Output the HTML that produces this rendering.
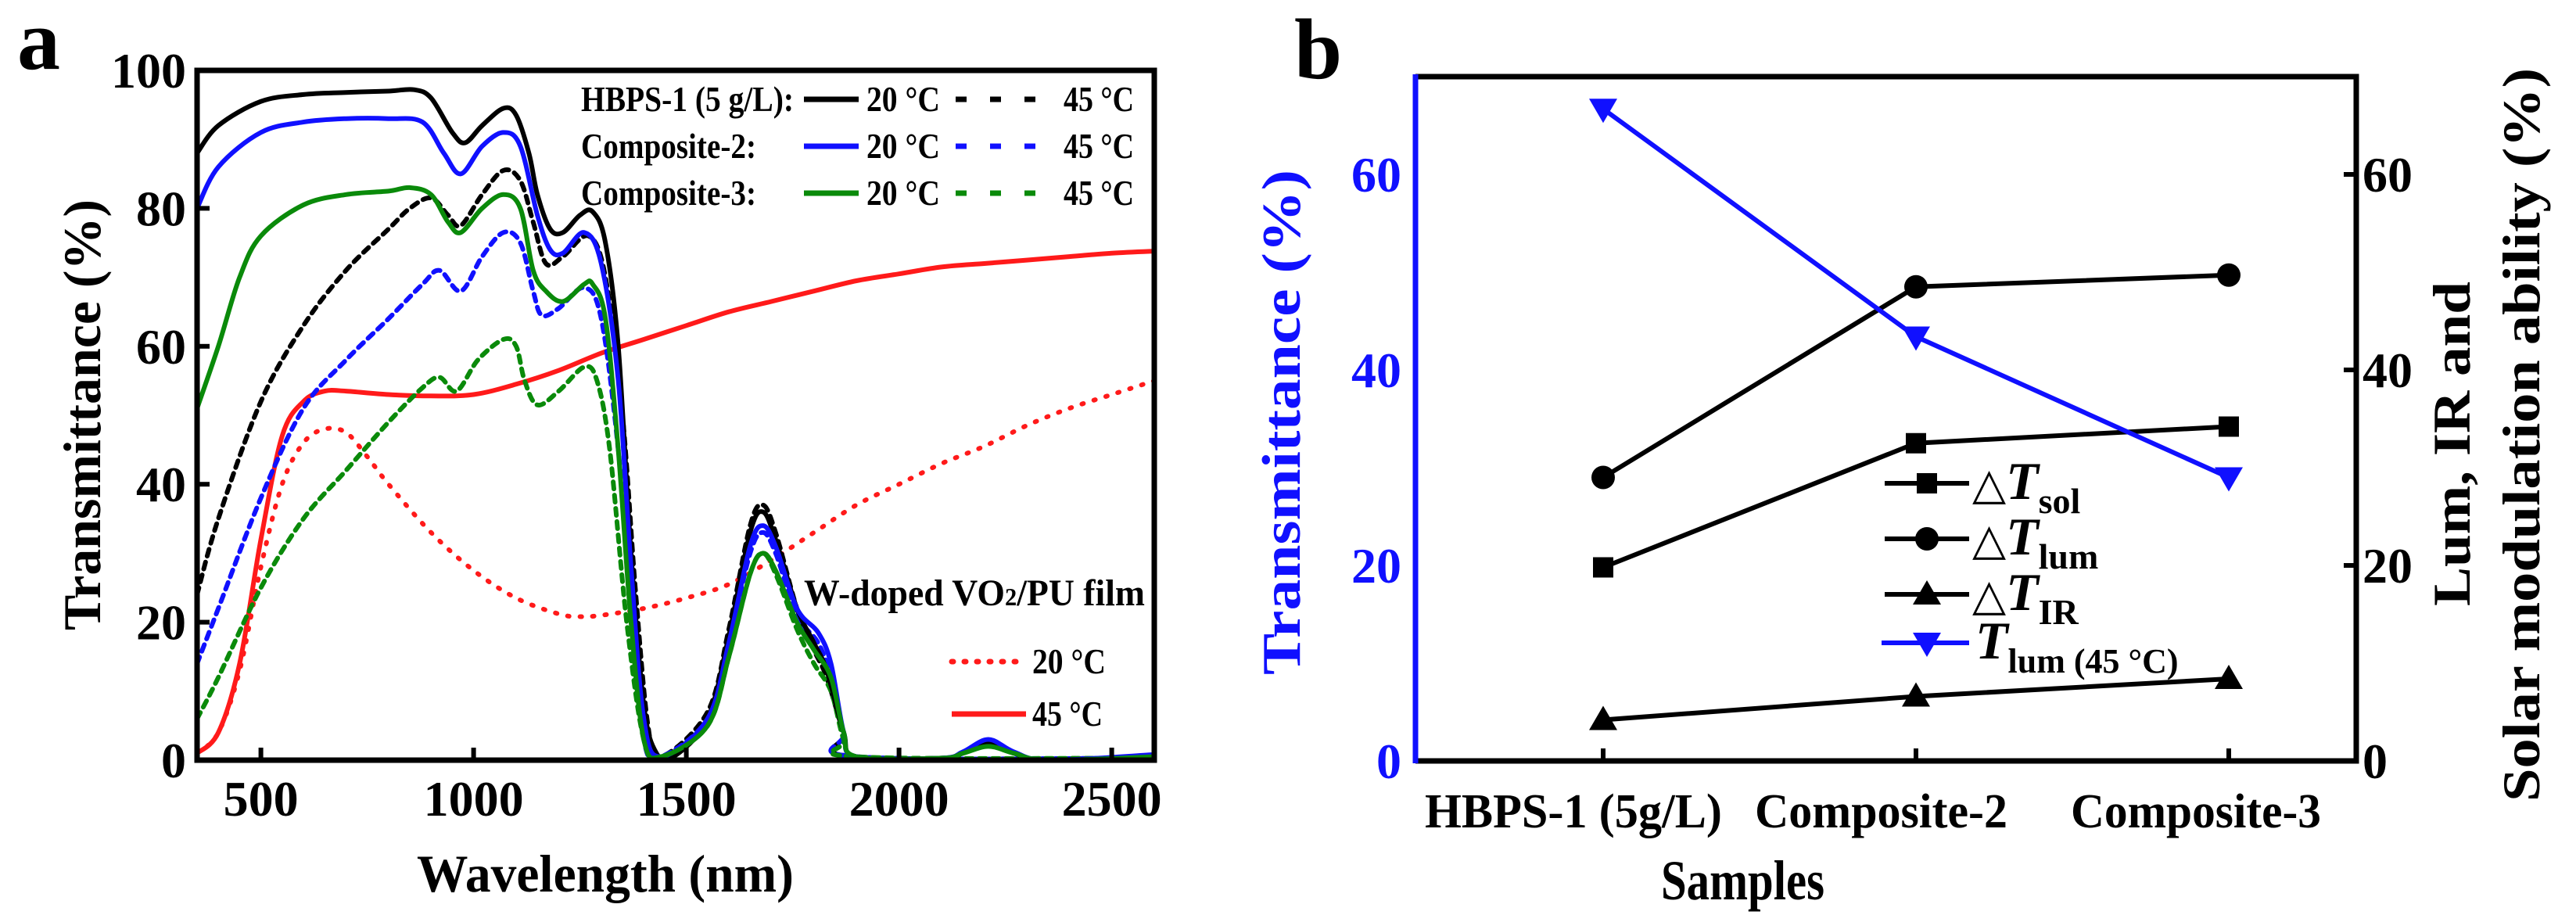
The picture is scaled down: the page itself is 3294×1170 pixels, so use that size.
<!DOCTYPE html>
<html><head><meta charset="utf-8"><style>
html,body{margin:0;padding:0;background:#fff;}
svg{display:block;font-family:"Liberation Serif",serif;font-weight:bold;}
</style></head><body>
<svg id="fig" width="3294" height="1170" viewBox="0 0 3294 1170" xmlns="http://www.w3.org/2000/svg">
<text x="22" y="88" font-size="110">a</text>
<text x="1655" y="100" font-size="110">b</text>
<g id="ga"></g>
<g id="gb"></g>
</svg>
<script>
// ---------- Panel a data ----------
const wlTicks = [500,1000,1500,2000,2500];
const tTicksA = [0,20,40,60,80,100];
const hbps20 = [[350,88],[400,92],[500,95.5],[600,96.5],[700,96.8],[800,97],[860,97.2],[900,96],[950,91],[980,89.5],[1020,92],[1070,94.5],[1100,93.5],[1130,88],[1150,82],[1180,77],[1210,76.5],[1250,79],[1280,79.5],[1310,75],[1340,60],[1370,30],[1400,8],[1430,1],[1470,0.5],[1550,6],[1600,18],[1650,33],[1680,36],[1710,32],[1760,22],[1800,17],[1830,13],[1870,4],[1900,0.5],[2100,0.3],[2150,1],[2210,2.5],[2270,1],[2350,0],[2600,0.5]];
const hbps45 = [[350,24],[400,35],[500,52],[600,63],[700,71],[800,77],[850,80],[900,81.5],[940,79],[970,77.5],[1020,82],[1070,85.5],[1110,84],[1140,78],[1170,72],[1210,73],[1270,76],[1310,70],[1350,50],[1380,25],[1410,5],[1440,0.5],[1550,7],[1600,19],[1650,34],[1680,37],[1710,33],[1760,22],[1800,16],[1830,12],[1870,4],[1900,0.5],[2600,0.3]];
const comp2_20 = [[350,80],[400,86],[500,91],[600,92.5],[700,93],[800,93],[880,92.5],[930,88],[970,85],[1020,89],[1070,91],[1110,89],[1150,79],[1180,74],[1210,73.5],[1260,76.5],[1300,72],[1340,55],[1370,28],[1400,6],[1440,0.5],[1550,6],[1600,17],[1650,31],[1680,34],[1710,31],[1760,22],[1810,18.5],[1840,14],[1870,4],[1900,0.5],[2100,0.3],[2150,1.2],[2210,3],[2270,1.2],[2350,0],[2600,0.8]];
const comp2_45 = [[350,14],[400,22],[500,38],[600,51],[700,58],[800,64],[880,69],[920,71],[970,68],[1020,73],[1070,76.5],[1110,75],[1140,68],[1160,64.5],[1200,65.5],[1260,68.5],[1300,64],[1340,45],[1370,22],[1400,3],[1440,0.5],[1550,6],[1600,17],[1650,30],[1680,33],[1710,30],[1760,21],[1810,17],[1840,12],[1870,4],[1900,0.5],[2600,0.3]];
const comp3_20 = [[350,51],[400,60],[450,70],[500,76],[600,80.5],[700,82],[800,82.5],[850,83],[900,82],[940,78],[970,76.5],[1020,80],[1070,82],[1110,80],[1140,71],[1170,68],[1210,66.5],[1260,69],[1280,69],[1310,64],[1340,45],[1370,20],[1400,3],[1440,0.5],[1550,5],[1600,15],[1650,27],[1680,30],[1710,27.5],[1760,20],[1800,16],[1840,12],[1870,4],[1900,0.5],[2100,0.3],[2150,1],[2210,2],[2270,1],[2350,0],[2600,0.5]];
const comp3_45 = [[350,6],[400,12],[500,25],[600,35],[700,42],[800,49],[880,54],[920,55.5],[960,53.5],[1010,58],[1070,61],[1100,60],[1120,55],[1150,51.5],[1200,53.5],[1260,57],[1290,55],[1320,45],[1360,20],[1400,3],[1440,0.5],[1550,5],[1600,15],[1650,27],[1680,30],[1710,27],[1760,19],[1800,14],[1840,10],[1870,3],[1900,0.5],[2600,0.3]];
const vo2_45 = [[350,1],[400,4],[450,14],[500,32],[550,47],[600,52],[650,53.5],[700,53.5],[800,53],[900,52.8],[1000,53],[1100,54.5],[1200,56.5],[1300,59],[1400,61],[1500,63],[1600,65],[1700,66.5],[1800,68],[1900,69.5],[2000,70.5],[2100,71.5],[2200,72],[2300,72.5],[2400,73],[2500,73.5],[2600,73.8]];
const vo2_20 = [[350,1],[400,4],[450,13],[500,28],[550,40],[600,46],[650,48],[700,47.5],[750,44],[800,40],[900,33],[1000,27.5],[1100,23.5],[1200,21.2],[1250,20.8],[1300,21],[1400,22],[1500,23.5],[1600,25.5],[1700,29],[1800,33],[1900,37],[2000,40],[2100,43],[2200,45.5],[2300,48.5],[2400,51],[2500,53],[2600,55]];

// ---------- Panel b data ----------
const samples = ["HBPS-1 (5g/L)","Composite-2","Composite-3"];
const tLum45 = [66.7,43.4,29.0];
const dTlum = [29.0,48.5,49.7];
const dTsol = [19.8,32.5,34.2];
const dTIR = [4.2,6.6,8.4];
const tTicksB = [0,20,40,60];

const NS="http://www.w3.org/2000/svg";
function mk(parent,tag,attrs,txt){const e=document.createElementNS(NS,tag);for(const k in attrs)e.setAttribute(k,attrs[k]);if(txt!==undefined)e.textContent=txt;parent.appendChild(e);return e;}
function fit(e,len){e.setAttribute('textLength',len);e.setAttribute('lengthAdjust','spacingAndGlyphs');return e;}
function smooth(pts){let d="M"+pts[0][0].toFixed(1)+","+pts[0][1].toFixed(1);for(let i=0;i<pts.length-1;i++){const p0=pts[Math.max(0,i-1)],p1=pts[i],p2=pts[i+1],p3=pts[Math.min(pts.length-1,i+2)];const c1x=p1[0]+(p2[0]-p0[0])/6,c1y=p1[1]+(p2[1]-p0[1])/6,c2x=p2[0]-(p3[0]-p1[0])/6,c2y=p2[1]-(p3[1]-p1[1])/6;d+=" C"+c1x.toFixed(1)+","+c1y.toFixed(1)+" "+c2x.toFixed(1)+","+c2y.toFixed(1)+" "+p2[0].toFixed(1)+","+p2[1].toFixed(1);}return d;}

// ----- Panel a -----
const ga=document.getElementById('ga');
const AL=252,AR=1476,AT=90,AB=972;
const xA=w=>AL+(w-350)/(2600-350)*(AR-AL);
const yA=v=>AB-v/100*(AB-AT);
const clipA=mk(ga,'clipPath',{id:'clipA'});mk(clipA,'rect',{x:AL,y:AT-10,width:AR-AL,height:AB-AT+10});
const series=[
 [vo2_20,'#ff1a1a','2 14','vo2-20c-curve'],[vo2_45,'#ff1a1a','','vo2-45c-curve'],
 [hbps45,'#000','9 8','hbps1-45c-curve'],[comp2_45,'#1010ff','9 8','composite2-45c-curve'],[comp3_45,'#0a8a0a','9 8','composite3-45c-curve'],
 [hbps20,'#000','','hbps1-20c-curve'],[comp2_20,'#1010ff','','composite2-20c-curve'],[comp3_20,'#0a8a0a','','composite3-20c-curve']];
for(const s of series){
 const p=mk(ga,'path',{d:smooth(s[0].map(q=>[xA(q[0]),yA(q[1])])),fill:'none',stroke:s[1],'stroke-width':6,'stroke-linecap':'round','clip-path':'url(#clipA)'});
 if(s[2])p.setAttribute('stroke-dasharray',s[2]);
 
 
}
const fa=mk(ga,'rect',{x:AL,y:AT,width:AR-AL,height:AB-AT,fill:'none',stroke:'#000','stroke-width':7});


for(const t of tTicksA){
 const tk=mk(ga,'line',{x1:AL,x2:AL+16,y1:yA(t),y2:yA(t),stroke:'#000','stroke-width':6});
 
 
 const lb=mk(ga,'text',{x:AL-14,y:yA(t)+22,'font-size':64,'text-anchor':'end'},String(t));
 
 
}
for(const t of wlTicks){
 const tk=mk(ga,'line',{x1:xA(t),x2:xA(t),y1:AB,y2:AB-16,stroke:'#000','stroke-width':6});
 
 
 const lb=mk(ga,'text',{x:xA(t),y:1043,'font-size':64,'text-anchor':'middle'},String(t));
 
 
}
let t1=fit(mk(ga,'text',{x:533,y:1140,'font-size':68},'Wavelength (nm)'),482);


let t2=fit(mk(ga,'text',{x:-275,y:0,'font-size':68,transform:'translate(128,531) rotate(-90)'},'Transmittance (%)'),551);


// legend a
const legRows=[['HBPS-1 (5 g/L):','#000',127,272],['Composite-2:','#1010ff',187,224],['Composite-3:','#0a8a0a',247,224]];
for(const r of legRows){
 const g=mk(ga,'g',{});
 
 
 fit(mk(g,'text',{x:743,y:r[2]+15,'font-size':46},r[0]),r[3]);
 mk(g,'line',{x1:1028,x2:1098,y1:r[2],y2:r[2],stroke:r[1],'stroke-width':7});
 fit(mk(g,'text',{x:1108,y:r[2]+15,'font-size':46},'20 °C'),94);
 mk(g,'line',{x1:1222,x2:1350,y1:r[2],y2:r[2],stroke:r[1],'stroke-width':7,'stroke-dasharray':'14 30'});
 fit(mk(g,'text',{x:1360,y:r[2]+15,'font-size':46},'45 °C'),90);
}
const gv=mk(ga,'g',{});


const wt=mk(gv,'text',{x:1028,y:774,'font-size':48});
mk(wt,'tspan',{},'W-doped VO');
mk(wt,'tspan',{'font-size':32},'2');
mk(wt,'tspan',{},'/PU film');
fit(wt,436);
mk(gv,'line',{x1:1217,x2:1312,y1:846,y2:846,stroke:'#ff1a1a','stroke-width':7,'stroke-dasharray':'2 14','stroke-linecap':'round'});
fit(mk(gv,'text',{x:1320,y:861,'font-size':46},'20 °C'),94);
mk(gv,'line',{x1:1217,x2:1312,y1:913,y2:913,stroke:'#ff1a1a','stroke-width':7});
fit(mk(gv,'text',{x:1320,y:928,'font-size':46},'45 °C'),90);

// ----- Panel b -----
const gb=document.getElementById('gb');
const BL=1810,BR=3013,BT=98,BB=973;
const xB=i=>2050+i*400;
const yB=v=>BB-v/70*(BB-BT);
function marker(g,type,x,y,col){
 if(type==='sq')mk(g,'rect',{x:x-13,y:y-13,width:26,height:26,fill:col});
 else if(type==='ci')mk(g,'circle',{cx:x,cy:y,r:15,fill:col});
 else if(type==='tu')mk(g,'polygon',{points:`${x},${y-18} ${x-18},${y+13} ${x+18},${y+13}`,fill:col});
 else mk(g,'polygon',{points:`${x},${y+18} ${x-18},${y-13} ${x+18},${y-13}`,fill:col});
}
const bSeries=[[dTsol,'#000','sq','delta-t-sol-series'],[dTlum,'#000','ci','delta-t-lum-series'],[dTIR,'#000','tu','delta-t-ir-series'],[tLum45,'#1010ff','td','t-lum-45c-series']];
for(const s of bSeries){
 const g=mk(gb,'g',{});
 
 
 mk(g,'polyline',{points:s[0].map((v,i)=>xB(i)+','+yB(v)).join(' '),fill:'none',stroke:s[1],'stroke-width':6});
 s[0].forEach((v,i)=>marker(g,s[2],xB(i),yB(v),s[1]));
}
const fb=mk(gb,'path',{d:`M${BL},${BB} L${BR},${BB} L${BR},${BT} L${BL},${BT}`,fill:'none',stroke:'#000','stroke-width':7});


const la=mk(gb,'line',{x1:BL,x2:BL,y1:BT-3,y2:BB+3,stroke:'#1010ff','stroke-width':7});


for(const t of tTicksB){
 const lb=mk(gb,'text',{x:BL-18,y:yB(t)+22,'font-size':64,'text-anchor':'end',fill:'#1010ff'},String(t));
 
 
 const tk=mk(gb,'line',{x1:BR,x2:BR-16,y1:yB(t),y2:yB(t),stroke:'#000','stroke-width':6});
 
 
 const rb=mk(gb,'text',{x:BR+8,y:yB(t)+22,'font-size':64},String(t));
 
 
}
const sampleLen=[380,323,320];
samples.forEach((s,i)=>{
 const tk=mk(gb,'line',{x1:xB(i),x2:xB(i),y1:BB,y2:BB-16,stroke:'#000','stroke-width':6});
 
 
 const lb=fit(mk(gb,'text',{x:[1822,2244,2648][i],y:1058,'font-size':62},s),sampleLen[i]);
 
 
});
let t3=fit(mk(gb,'text',{x:2124,y:1150,'font-size':72},'Samples'),209);


let t4=fit(mk(gb,'text',{x:-323,y:0,'font-size':70,fill:'#1010ff',transform:'translate(1662,540) rotate(-90)'},'Transmittance (%)'),646);


let t5=fit(mk(gb,'text',{x:-207,y:0,'font-size':68,transform:'translate(3158,568) rotate(-90)'},'Lum, IR and'),415);


let t6=fit(mk(gb,'text',{x:-469,y:0,'font-size':68,transform:'translate(3247,556) rotate(-90)'},'Solar modulation ability (%)'),938);


// legend b
const legB=[['sol','#000','sq',618],['lum','#000','ci',689],['IR','#000','tu',760]];
for(const r of legB){
 const g=mk(gb,'g',{});
 
 
 mk(g,'line',{x1:2410,x2:2518,y1:r[3],y2:r[3],stroke:r[1],'stroke-width':6});
 marker(g,r[2],2464,r[3],r[1]);
 const t=mk(g,'text',{x:2522,y:r[3]+20,'font-size':68});
 mk(t,'tspan',{'font-weight':'normal','font-size':56},'△');
 mk(t,'tspan',{'font-style':'italic'},'T');
 mk(t,'tspan',{'font-size':46,dy:18},r[0]);
}
const g4=mk(gb,'g',{});


mk(g4,'line',{x1:2406,x2:2518,y1:822,y2:822,stroke:'#1010ff','stroke-width':6});
marker(g4,'td',2464,822,'#1010ff');
const t7=mk(g4,'text',{x:2526,y:842,'font-size':68});
mk(t7,'tspan',{'font-style':'italic'},'T');
mk(t7,'tspan',{'font-size':44,dy:18},'lum (45 °C)');
</script>
</body></html>
